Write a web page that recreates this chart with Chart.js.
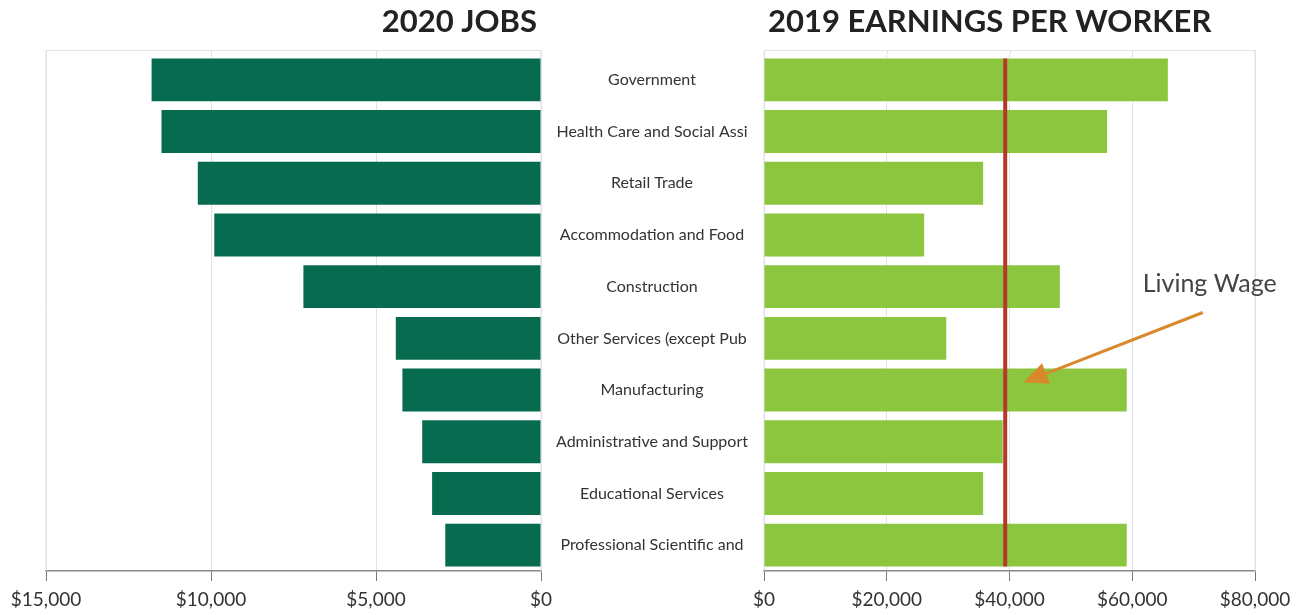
<!DOCTYPE html>
<html>
<head>
<meta charset="utf-8">
<script src="https://cdn.jsdelivr.net/npm/chart.js@4.4.1/dist/chart.umd.min.js"></script>
<style>
  html, body { margin: 0; padding: 0; background: #fff; }
  #wrap { position: relative; width: 1309px; height: 615px; }
  #jobsBox { position: absolute; left: 0; top: 0; width: 764px; height: 615px; }
  #earnBox { position: absolute; left: 700px; top: 0; width: 609px; height: 615px; }
</style>
</head>
<body>
<div id="wrap">
  <div id="jobsBox"><canvas id="jobsChart"></canvas></div>
  <div id="earnBox"><canvas id="earnChart"></canvas></div>
</div>
<script>
// Data
const categories = [
    'Government',
    'Health Care and Social Assi',
    'Retail Trade',
    'Accommodation and Food',
    'Construction',
    'Other Services (except Pub',
    'Manufacturing',
    'Administrative and Support',
    'Educational Services',
    'Professional Scientific and'
];
const jobs2020 = [11800, 11500, 10400, 9900, 7200, 4400, 4200, 3600, 3300, 2900];
const earnings2019 = [65800, 55900, 35700, 26100, 48200, 29700, 59100, 38900, 35700, 59100];
const jobsTicks = [0, 5000, 10000, 15000];
const earningsTicks = [0, 20000, 40000, 60000, 80000];
const livingWage = 39300;
// annotation, in data coordinates (x value, category index)
const wageLabel = { text: 'Living Wage', x: 61700, y: 3.95 };
const wageArrowFrom = { x: 71500, y: 4.5 };
const wageArrowTo = { x: 42300, y: 5.85 };

const FONT = "Lato, 'DejaVu Sans', sans-serif";
const money = v => '$' + Number(v).toLocaleString('en-US');

// draws light frame + panel title
const framePlugin = {
    id: 'frame',
    beforeDatasetsDraw(chart, args, opts) {
        const { ctx, chartArea: a } = chart;
        const top = a.top - 4;
        ctx.save();
        ctx.strokeStyle = '#e2e2e2';
        ctx.lineWidth = 1;
        ctx.beginPath();
        ctx.moveTo(a.left, a.bottom);
        ctx.lineTo(a.left, top + 0.5);
        ctx.lineTo(a.right, top + 0.5);
        ctx.lineTo(a.right, a.bottom);
        // carry the grid lines up to the frame
        chart.scales.x.ticks.forEach(t => {
            const px = Math.round(chart.scales.x.getPixelForValue(t.value)) + 0.5;
            ctx.moveTo(px, top);
            ctx.lineTo(px, a.top);
        });
        ctx.stroke();
        ctx.restore();
    },
    afterDraw(chart, args, opts) {
        const { ctx, chartArea: a } = chart;
        ctx.save();
        ctx.font = 'bold 31px ' + FONT;
        ctx.fillStyle = '#222';
        ctx.textBaseline = 'middle';
        ctx.textAlign = opts.align;
        ctx.fillText(opts.text, opts.align === 'right' ? a.right - 4 : a.left + 4, 22);
        ctx.restore();
    }
};

// living wage line + arrow
const wagePlugin = {
    id: 'wage',
    afterDatasetsDraw(chart) {
        const { ctx } = chart;
        const xs = chart.scales.x, ys = chart.scales.y;
        const bars = chart.getDatasetMeta(0).data;
        const first = bars[0], last = bars[bars.length - 1];
        const lx = xs.getPixelForValue(livingWage);
        ctx.save();
        ctx.strokeStyle = '#b5392a';
        ctx.lineWidth = 4;
        ctx.beginPath();
        ctx.moveTo(lx, first.y - first.height / 2);
        ctx.lineTo(lx, last.y + last.height / 2);
        ctx.stroke();

        // arrow
        const x1 = xs.getPixelForValue(wageArrowFrom.x), y1 = ys.getPixelForValue(wageArrowFrom.y);
        const x2 = xs.getPixelForValue(wageArrowTo.x), y2 = ys.getPixelForValue(wageArrowTo.y);
        const ang = Math.atan2(y2 - y1, x2 - x1);
        const headLen = 24, headW = 11;
        const bx = x2 - headLen * Math.cos(ang), by = y2 - headLen * Math.sin(ang);
        ctx.strokeStyle = '#d8892c';
        ctx.fillStyle = '#d8892c';
        ctx.lineWidth = 3;
        ctx.beginPath();
        ctx.moveTo(x1, y1);
        ctx.lineTo(bx, by);
        ctx.stroke();
        ctx.beginPath();
        ctx.moveTo(x2, y2);
        ctx.lineTo(bx + headW * Math.sin(ang), by - headW * Math.cos(ang));
        ctx.lineTo(bx - headW * Math.sin(ang), by + headW * Math.cos(ang));
        ctx.closePath();
        ctx.fill();

        ctx.font = '25px ' + FONT;
        ctx.fillStyle = '#444';
        ctx.textAlign = 'left';
        ctx.textBaseline = 'middle';
        ctx.fillText(wageLabel.text, xs.getPixelForValue(wageLabel.x), ys.getPixelForValue(wageLabel.y));
        ctx.restore();
    }
};

function xAxis(min, max, ticks, reverse) {
    return {
        type: 'linear',
        min: min,
        max: max,
        reverse: reverse,
        afterBuildTicks: s => { s.ticks = ticks.map(v => ({ value: v })); },
        afterFit: s => { s.height = 44; },
        grid: { color: '#e2e2e2', tickColor: '#777', tickLength: 10, drawOnChartArea: true },
        border: { display: true, color: '#888', width: 1.5 },
        ticks: {
            color: '#333',
            padding: 7,
            maxRotation: 0,
            autoSkip: false,
            font: { family: FONT, size: 19 },
            callback: v => money(v)
        }
    };
}

const common = {
    indexAxis: 'y',
    responsive: true,
    maintainAspectRatio: false,
    animation: false,
    plugins: { legend: { display: false }, tooltip: { enabled: false } }
};

new Chart(document.getElementById('jobsChart'), {
    type: 'bar',
    data: {
        labels: categories,
        datasets: [{
            data: jobs2020,
            backgroundColor: '#076c4f',
            barPercentage: 0.83,
            categoryPercentage: 1
        }]
    },
    options: {
        ...common,
        layout: { padding: { left: 46, right: 0, top: 54, bottom: 0 } },
        plugins: { ...common.plugins, frame: { text: '2020 JOBS', align: 'right' } },
        scales: {
            x: xAxis(0, 15000, jobsTicks, true),
            y: {
                position: 'right',
                afterFit: s => { s.width = 223; },
                grid: { display: false },
                border: { display: false },
                ticks: {
                    crossAlign: 'center',
                    padding: 7,
                    color: '#333',
                    font: { family: FONT, size: 16 }
                }
            }
        }
    },
    plugins: [framePlugin]
});

new Chart(document.getElementById('earnChart'), {
    type: 'bar',
    data: {
        labels: categories,
        datasets: [{
            data: earnings2019,
            backgroundColor: '#8cc63f',
            barPercentage: 0.83,
            categoryPercentage: 1
        }]
    },
    options: {
        ...common,
        layout: { padding: { left: 64, right: 54, top: 54, bottom: 0 } },
        plugins: { ...common.plugins, frame: { text: '2019 EARNINGS PER WORKER', align: 'left' } },
        scales: {
            x: xAxis(0, 80000, earningsTicks, false),
            y: { display: false }
        }
    },
    plugins: [framePlugin, wagePlugin]
});
</script>
</body>
</html>
